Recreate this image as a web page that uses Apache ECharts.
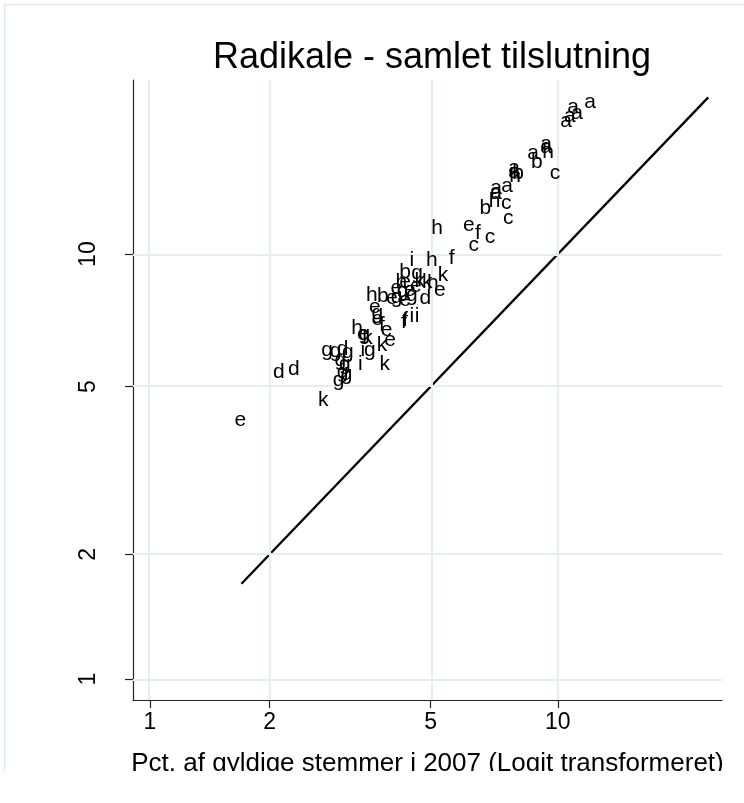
<!DOCTYPE html>
<html>
<head>
<meta charset="utf-8">
<script src="https://cdn.jsdelivr.net/npm/echarts@6/dist/echarts.min.js"></script>
<style>
html,body{margin:0;padding:0;background:#fff;}
#chart{width:744px;height:803px;}
</style>
</head>
<body>
<div id="chart"></div>
<script>
// Data: label letter, x = pct 2007, y = pct (both in percent)
const letters = [
 'a','a','a','a','a','a','a','a','a','a','a','a','a',
 'h','h','h','h','h','h','h','h','h',
 'b','b','b','b','b',
 'c','c','c','c','c',
 'e','e','e','e','e','e','e','e','e','e','e','e','e','e',
 'f','f','f','f','f',
 'i','i','i','i','i',
 'k','k','k','k','k','k','k',
 'g','g','g','g','g','g','g','g','g','g','g','g','g','g','g',
 'd','d','d','d'
];
const xPct = [
 11.84,10.83,11.06,10.66,10.44,9.39,9.39,8.76,7.91,7.91,7.62,7.17,7.17,
 9.49,7.95,7.12,5.18,5.03,5.06,4.24,3.59,3.30,
 8.94,8.08,6.76,4.33,3.82,
 9.85,7.58,7.66,6.94,6.35,
 6.18,5.26,4.33,4.12,4.45,4.33,4.02,3.65,3.70,3.41,3.98,1.69,4.60,3.90,
 6.49,5.62,4.33,4.30,3.80,
 4.50,4.50,4.63,3.41,3.36,
 5.35,4.90,3.50,3.80,3.86,2.72,4.70,
 4.63,4.27,4.50,4.13,3.70,3.55,2.78,2.92,3.13,3.00,3.08,3.04,3.11,2.97,3.44,
 4.85,3.04,2.11,2.30
];
const yPct = [
 20.77,20.31,19.76,19.49,19.05,17.13,16.91,16.43,15.30,15.00,14.00,13.90,13.56,
 16.51,14.70,13.04,11.40,9.71,8.60,8.65,8.10,6.80,
 15.75,14.94,12.60,9.13,8.04,
 14.94,12.90,11.99,10.90,10.47,
 11.58,8.32,8.65,8.40,8.32,7.90,7.98,7.61,7.16,6.60,6.41,4.18,8.50,6.75,
 11.13,9.80,7.12,7.05,6.93,
 9.71,7.25,7.25,6.08,5.62,
 9.00,8.67,6.45,6.24,5.62,4.65,8.70,
 9.05,8.25,8.10,8.00,7.38,6.08,6.08,6.05,6.00,5.76,5.62,5.41,5.33,5.17,6.62,
 7.98,6.10,5.41,5.49
];
const tickValues = [1, 2, 5, 10];
const refLineX = [1.7, 21.2];
const refLineY = [1.7, 21.2];

const logit = p => Math.log((p / 100) / (1 - p / 100));
const invlogit = v => 100 / (1 + Math.exp(-v));

const pts = letters.map((l, i) => [logit(xPct[i]), logit(yPct[i]), i]);
const lineData = refLineX.map((x, i) => [logit(x), logit(refLineY[i])]);
const tickLogit = tickValues.map(logit);

const FONT = 'Liberation Sans, Arial, Helvetica, sans-serif';
const gridColor = '#e4edf0';
const tickFmt = v => '{t|' + Math.round(invlogit(v)) + '}';
const tickRich = {t: {fontSize: 23, color: '#000', fontFamily: FONT}};

const chart = echarts.init(document.getElementById('chart'), null, {renderer: 'canvas'});
chart.setOption({
  animation: false,
  backgroundColor: '#ffffff',
  grid: {left: 133, top: 80, right: 22, bottom: 103},
  xAxis: {
    type: 'value', min: -4.695, max: -1.232,
    axisLine: {show: true, onZero: false, lineStyle: {color: '#222', width: 1.2}},
    axisTick: {show: true, length: 8, customValues: tickLogit, lineStyle: {color: '#222', width: 1.2}},
    axisLabel: {show: true, customValues: tickLogit, margin: 11, fontSize: 23, color: '#000', fontFamily: FONT,
      formatter: tickFmt, rich: tickRich},
    splitLine: {show: false},
    name: 'Pct. af gyldige stemmer i 2007 (Logit transformeret)',
    nameLocation: 'middle', nameGap: 51,
    nameTextStyle: {fontSize: 26, color: '#000', fontFamily: FONT}
  },
  yAxis: {
    type: 'value', min: -4.713, max: -1.215,
    axisLine: {show: true, onZero: false, lineStyle: {color: '#222', width: 1.2}},
    axisTick: {show: true, length: 8, customValues: tickLogit, lineStyle: {color: '#222', width: 1.2}},
    axisLabel: {show: true, customValues: tickLogit, margin: 33, rotate: 90, fontSize: 23, color: '#000', fontFamily: FONT,
      formatter: tickFmt, rich: tickRich},
    splitLine: {show: false}
  },
  graphic: [
    {type: 'rect', z: -10, shape: {x: 4.5, y: 4.5, width: 800, height: 790},
      style: {fill: 'none', stroke: '#e3eaee', lineWidth: 1.5}},
    {type: 'text', x: 432, y: 58, z: 100,
      style: {text: 'Radikale - samlet tilslutning', font: '36px ' + FONT, fill: '#000',
        textAlign: 'center', textVerticalAlign: 'middle'}},
    {type: 'rect', z: 1000, shape: {x: 0, y: 771, width: 744, height: 32},
      style: {fill: '#ffffff'}}
  ],
  series: [
    {
      type: 'scatter', data: [], z: 1, silent: true,
      markLine: {
        silent: true, symbol: ['none', 'none'], label: {show: false},
        lineStyle: {color: gridColor, width: 2, type: 'solid'},
        animation: false,
        data: tickLogit.map(v => ({xAxis: v})).concat(tickLogit.map(v => ({yAxis: v})))
      }
    },
    {
      type: 'line', data: lineData, z: 3, symbol: 'none', silent: true,
      lineStyle: {color: '#000', width: 2.3}
    },
    {
      type: 'custom', data: pts, z: 5, silent: true,
      encode: {x: 0, y: 1},
      renderItem: function (params, api) {
        const c = api.coord([api.value(0), api.value(1)]);
        return {
          type: 'text', x: c[0], y: c[1],
          style: {text: letters[api.value(2)], font: '21px ' + FONT, fill: '#000',
            textAlign: 'center', textVerticalAlign: 'middle'}
        };
      }
    }
  ]
});
</script>
</body>
</html>
